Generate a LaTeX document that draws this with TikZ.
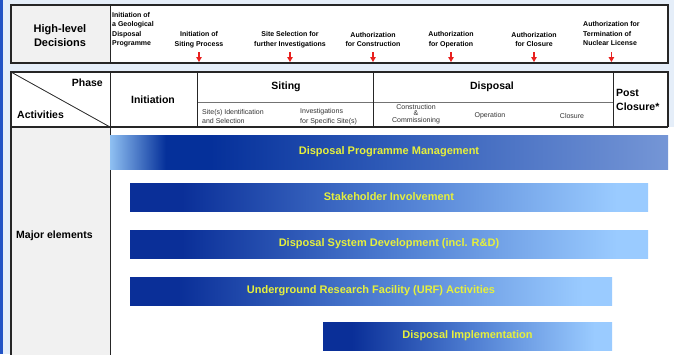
\documentclass[tikz,border=0pt]{standalone}
\usepackage{fontspec}
\setmainfont{Liberation Sans}
\usetikzlibrary{arrows.meta}

\definecolor{pagebg}{HTML}{E5EEF9}
\definecolor{edgeblue}{HTML}{2254C6}
\definecolor{cellgray}{HTML}{F1F1F1}
\definecolor{pmlight}{HTML}{8FC0F2}
\definecolor{pmdark}{HTML}{05309A}
\definecolor{pmmid}{HTML}{2F5BB8}
\definecolor{pmright}{HTML}{7596D6}
\definecolor{bardark}{HTML}{0A2F98}
\definecolor{barmid}{HTML}{4C7BD0}
\definecolor{barlight}{HTML}{9ACBFF}
\definecolor{bartext}{HTML}{E6F03C}
\definecolor{decred}{HTML}{E8201E}

\pgfdeclarehorizontalshading{pmshade}{100bp}{color(0bp)=(pmlight); color(25bp)=(pmlight);
  color(30bp)=(pmdark); color(34bp)=(pmdark); color(50bp)=(pmmid); color(75bp)=(pmright); color(100bp)=(pmright)}
\pgfdeclarehorizontalshading{barshade}{100bp}{color(0bp)=(bardark); color(25bp)=(bardark);
  color(30bp)=(bardark); color(50bp)=(barmid); color(72bp)=(barlight); color(100bp)=(barlight)}

\begin{document}
\begin{tikzpicture}[x=1pt,y=-1pt,
    frame/.style={draw=black!85,line width=1.6pt},
    rule/.style={draw=black!85,line width=1pt},
    subrule/.style={draw=black!55,line width=0.5pt},
    dec/.style={font=\fontsize{7}{9.5}\selectfont\bfseries,inner sep=0pt,align=center},
    head/.style={font=\fontsize{10.5}{14}\selectfont\bfseries,inner sep=0pt,align=left},
    sub/.style={font=\fontsize{7}{9.5}\selectfont,inner sep=0pt,text=black!80,align=left},
    bar/.style={shading=barshade,inner sep=0pt,text=bartext,font=\fontsize{11}{13}\selectfont\bfseries},
    decarrow/.style={decred,line width=1.1pt,-{Triangle[width=5.5pt,length=5pt]}}]
  \useasboundingbox (0,0) rectangle (674,354);
  \fill[pagebg] (0,0) rectangle (674,354);
  \fill[edgeblue] (0,0) rectangle (2.5,354);

  % high-level decisions
  \fill[cellgray] (11,5) rectangle (110,63);
  \fill[white] (110,5) rectangle (668,63);
  \draw[frame] (11,5) rectangle (668,63);
  \draw[rule] (110,5) -- (110,63);
  \node[head,align=center,font=\fontsize{11}{14}\selectfont\bfseries] (hld) at (60,36) {High-level\\Decisions};
  \node[dec,align=left,anchor=west] (dgeo) at (112,29.5) {Initiation of\\a Geological\\Disposal\\Programme};
  \node[dec] (dsit) at (199,39.5) {Initiation of\\Siting Process};
  \node[dec] (dsel) at (290,39.5) {Site Selection for\\further Investigations};
  \node[dec] (dcon) at (373,39.5) {Authorization\\for Construction};
  \node[dec] (dope) at (451,39.5) {Authorization\\for Operation};
  \node[dec] (dclo) at (534,39.5) {Authorization\\for Closure};
  \node[dec,align=left,anchor=west] (dter) at (583,33.5) {Authorization for\\Termination of\\Nuclear License};
  \coordinate (arrtop) at (0,52);
  \coordinate (arrbot) at (0,62);
  \foreach \d in {dsit,dsel,dcon,dope,dclo,dter}
    \draw[decarrow] (\d |- arrtop) -- (\d |- arrbot);

  % phase table
  \fill[white] (11,72) rectangle (668,127);
  \fill[white] (110,127) rectangle (674,360);
  \fill[cellgray] (11,127) rectangle (110,360);
  \draw[subrule] (197,102) -- (613,102);
  \draw[line width=0.8pt,black!85] (11,72) -- (110,127);
  \draw[rule] (110,72) -- (110,360);
  \draw[rule] (197,72) -- (197,127);
  \draw[rule] (373,72) -- (373,127);
  \draw[rule] (613,72) -- (613,127);
  \draw[rule,line width=1.2pt] (11,127) -- (668,127);
  \draw[frame] (11,360) -- (11,72) -- (668,72) -- (668,127);

  \node[head,anchor=east] (phase) at (103,83) {Phase};
  \node[head,anchor=west] (act) at (17,115) {Activities};
  \node[head] (init) at (153,100) {Initiation};
  \node[head] (siting) at (286,87) {Siting};
  \node[head] (disp) at (492,87) {Disposal};
  \node[head,anchor=west] (post) at (616,100) {Post\\Closure*};
  \node[sub,anchor=west] (ssel) at (202,116.5) {Site(s) Identification\\and Selection};
  \node[sub,anchor=west] (sinv) at (300,116.5) {Investigations\\for Specific Site(s)};
  \node[sub,align=center,font=\fontsize{7}{6.5}\selectfont] (scon) at (416,114) {Construction\\\&\\Commissioning};
  \node[sub] (sope) at (490,115.5) {Operation};
  \node[sub] (sclo) at (572,115.5) {Closure};
  \node[head,anchor=west] (major) at (16,236) {Major elements};

  % major elements
  \node[bar,shading=pmshade,minimum width=558pt,minimum height=34pt] (pm) at (389,152) {Disposal Programme Management};
  \node[bar,minimum width=518pt,minimum height=28pt] (sh) at (389,197) {Stakeholder Involvement};
  \node[bar,minimum width=518pt,minimum height=28pt] (sd) at (389,244) {Disposal System Development (incl. R\&D)};
  \node[bar,minimum width=482pt,minimum height=28pt] (urf) at (371,291) {Underground Research Facility (URF) Activities};
  \node[bar,minimum width=289pt,minimum height=28pt] (di) at (467.5,336) {Disposal Implementation};
\end{tikzpicture}
\end{document}
